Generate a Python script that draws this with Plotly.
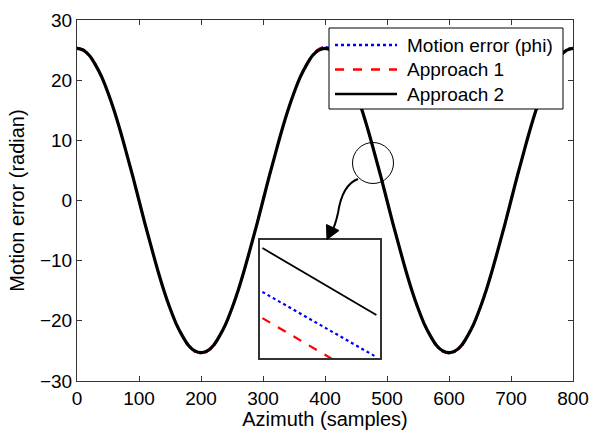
import plotly.graph_objects as go

# ---- data ----
azimuth = list(range(0, 801, 10))
half_cycle = [25.3, 25.0, 24.1, 22.5, 20.5, 17.9, 14.9, 11.5, 7.8, 4.0, 0.0,
              -4.0, -7.8, -11.5, -14.9, -17.9, -20.5, -22.5, -24.1, -25.0, -25.3,
              -25.0, -24.1, -22.5, -20.5, -17.9, -14.9, -11.5, -7.8, -4.0, 0.0,
              4.0, 7.8, 11.5, 14.9, 17.9, 20.5, 22.5, 24.1, 25.0]
approach2 = half_cycle + half_cycle + [25.3]
motion_phi = [25.4, 25.1, 24.1, 22.6, 20.5, 17.9, 14.9, 11.5, 7.8, 4.0, 0.0,
              -4.0, -7.8, -11.5, -14.9, -17.9, -20.5, -22.5, -24.2, -25.1, -25.4,
              -25.1, -24.2, -22.5, -20.5, -17.9, -14.9, -11.5, -7.8, -4.0, 0.0,
              4.0, 7.8, 11.5, 14.9, 17.9, 20.5, 22.6, 24.2, 25.2, 25.5,
              25.2, 24.2, 22.6, 20.5, 17.9, 14.9, 11.5, 7.8, 4.0, 0.0,
              -4.0, -7.8, -11.5, -14.9, -17.9, -20.5, -22.5, -24.2, -25.1, -25.4,
              -25.1, -24.2, -22.5, -20.5, -17.9, -14.9, -11.5, -7.8, -4.0, 0.0,
              4.0, 7.8, 11.5, 14.9, 17.9, 20.5, 22.6, 24.2, 25.1, 25.4]
approach1 = list(motion_phi)

# zoomed inset (around azimuth ~475)
inset_x = [470.2, 479.7]
inset_phi = [7.36, 4.05]
inset_app1 = [6.03, 2.63]
inset_app2 = [9.59, 6.19]

series_names = ["Motion error (phi)", "Approach 1", "Approach 2"]
series_colors = ["#0000ff", "#ff0000", "#000000"]
series_dash = ["dot", "dash", "solid"]

x_ticks = [0, 100, 200, 300, 400, 500, 600, 700, 800]
y_ticks = [-30, -20, -10, 0, 10, 20, 30]

FONT = "Arial, Liberation Sans, sans-serif"
W, H = 592, 430
L, R, T, B = 77, 573, 20, 381


def px(x):
    return (x - L) / (R - L)


def py(y):
    return (B - y) / (B - T)


fig = go.Figure()
main_data = [motion_phi, approach1, approach2]
widths = [2, 2, 3.2]
for name, col, dash, vals, w in zip(series_names, series_colors, series_dash, main_data, widths):
    fig.add_trace(go.Scatter(x=azimuth, y=vals, mode="lines", name=name,
                             line=dict(color=col, dash=dash, width=w, shape="spline"),
                             showlegend=False))

inset_data = [inset_phi, inset_app1, inset_app2]
inset_w = [2.2, 2.2, 1.8]
for name, col, dash, vals, w in zip(series_names, series_colors, series_dash, inset_data, inset_w):
    fig.add_trace(go.Scatter(x=inset_x, y=vals, mode="lines", name=name,
                             line=dict(color=col, dash=dash, width=w),
                             xaxis="x2", yaxis="y2", showlegend=False))

axis_common = dict(showline=True, mirror="ticks", linecolor="#333", linewidth=1,
                   ticks="inside", ticklen=5, tickcolor="#333", showgrid=False,
                   zeroline=False, automargin=False,
                   tickfont=dict(family=FONT, size=19, color="#000"))

fig.update_layout(
    width=W, height=H,
    margin=dict(l=L, r=W - R, t=T, b=H - B, autoexpand=False),
    paper_bgcolor="white", plot_bgcolor="white",
    xaxis=dict(range=[0, 800], tickvals=x_ticks, domain=[0, 1],
               title=dict(text="Azimuth (samples)", font=dict(family=FONT, size=20, color="#000"), standoff=2),
               **axis_common),
    yaxis=dict(range=[-30, 30], tickvals=y_ticks, domain=[0, 1],
               title=dict(text="Motion error (radian)", font=dict(family=FONT, size=20, color="#000"), standoff=9),
               **axis_common),
    xaxis2=dict(range=[470, 480], domain=[px(260), px(380)], anchor="y2",
                showline=True, mirror=True, linecolor="#333", linewidth=2,
                showticklabels=False, ticks="", showgrid=False, zeroline=False),
    yaxis2=dict(range=[4, 10], domain=[py(358), py(240)], anchor="x2",
                showline=True, mirror=True, linecolor="#333", linewidth=2,
                showticklabels=False, ticks="", showgrid=False, zeroline=False),
)

shapes = []
# magnifier circle
cx, cy, r = 373, 163, 20.5
shapes.append(dict(type="circle", xref="paper", yref="paper",
                   x0=px(cx - r), x1=px(cx + r), y0=py(cy + r), y1=py(cy - r),
                   line=dict(color="#000", width=1)))
# curved arrow
pts = [(358, 179), (344, 184), (340, 200), (338, 213), (336, 222), (334, 228), (331.5, 232)]
path = "M {:.4f},{:.4f} C {:.4f},{:.4f} {:.4f},{:.4f} {:.4f},{:.4f} C {:.4f},{:.4f} {:.4f},{:.4f} {:.4f},{:.4f}".format(
    *[v for p in pts for v in (px(p[0]), py(p[1]))])
shapes.append(dict(type="path", xref="paper", yref="paper", path=path,
                   line=dict(color="#000", width=2)))
head = [(327, 239.5), (339, 230.5), (326.5, 224.5)]
hpath = "M {:.4f},{:.4f} L {:.4f},{:.4f} L {:.4f},{:.4f} Z".format(
    *[v for p in head for v in (px(p[0]), py(p[1]))])
shapes.append(dict(type="path", xref="paper", yref="paper", path=hpath,
                   fillcolor="#000", line=dict(color="#000", width=1)))

# legend box
shapes.append(dict(type="rect", xref="paper", yref="paper", layer="above",
                   x0=px(329), x1=px(563), y0=py(109), y1=py(28),
                   fillcolor="white", line=dict(color="#000", width=1)))
leg_y = [45, 69.5, 94]
leg_w = [2.5, 2.5, 2.5]
annotations = []
for name, col, dash, yy, w in zip(series_names, series_colors, series_dash, leg_y, leg_w):
    shapes.append(dict(type="line", xref="paper", yref="paper", layer="above",
                       x0=px(335), x1=px(397), y0=py(yy), y1=py(yy),
                       line=dict(color=col, dash=dash, width=w)))
    annotations.append(dict(xref="paper", yref="paper", x=px(405), y=py(yy),
                            text=name, showarrow=False, xanchor="left", yanchor="middle",
                            font=dict(family=FONT, size=19, color="#000")))

fig.update_layout(shapes=shapes, annotations=annotations)
fig.write_html("out.html", config={"displayModeBar": False},
               post_script="document.body.style.margin='0';document.body.style.overflow='hidden';")
